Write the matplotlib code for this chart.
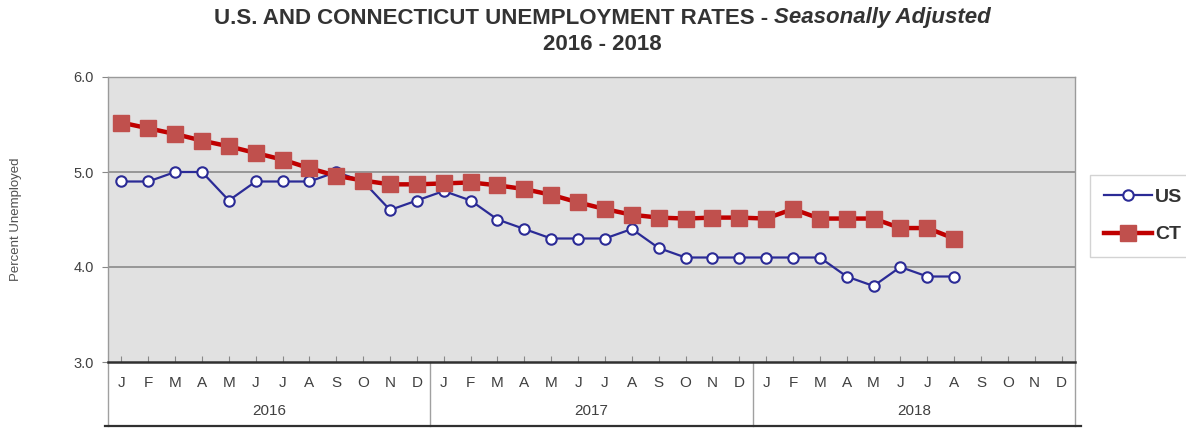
import matplotlib
matplotlib.use("Agg")
import matplotlib.pyplot as plt
import matplotlib.transforms as mtransforms
from matplotlib.lines import Line2D

plt.rcParams['font.family'] = ['Liberation Sans', 'DejaVu Sans']

months = ["J", "F", "M", "A", "M", "J", "J", "A", "S", "O", "N", "D"]
years = ["2016", "2017", "2018"]

us = [4.9, 4.9, 5.0, 5.0, 4.7, 4.9, 4.9, 4.9, 5.0, 4.9, 4.6, 4.7,
      4.8, 4.7, 4.5, 4.4, 4.3, 4.3, 4.3, 4.4, 4.2, 4.1, 4.1, 4.1,
      4.1, 4.1, 4.1, 3.9, 3.8, 4.0, 3.9, 3.9]
ct = [5.52, 5.46, 5.40, 5.33, 5.27, 5.20, 5.13, 5.04, 4.96, 4.91, 4.87, 4.87,
      4.88, 4.89, 4.86, 4.82, 4.76, 4.68, 4.61, 4.55, 4.52, 4.51, 4.52, 4.52,
      4.51, 4.61, 4.51, 4.51, 4.51, 4.41, 4.41, 4.30]
yticks = [3.0, 4.0, 5.0, 6.0]

W, H = 1186, 428
fig = plt.figure(figsize=(W / 100, H / 100), dpi=100)
L, R, T, B = 108, 1075, 77, 362
ax = fig.add_axes([L / W, 1 - B / H, (R - L) / W, (B - T) / H])
ax.set_facecolor("#e1e1e1")

n_total = len(months) * len(years)
xs_us = list(range(len(us)))
xs_ct = list(range(len(ct)))

ax.plot(xs_us, us, color="#2b2b96", lw=1.6, marker="o", ms=7.5,
        mfc="white", mec="#2b2b96", mew=1.5, zorder=3, label="US")
ax.plot(xs_ct, ct, color="#c00000", lw=3.2, marker="s", ms=12,
        mfc="#c0504d", mec="#c0504d", zorder=4, label="CT")

ax.set_xlim(-0.5, n_total - 0.5)
ax.set_ylim(yticks[0], yticks[-1])
ax.set_yticks(yticks)
ax.set_yticklabels([f"{v:.1f}" for v in yticks], fontsize=10.5, color="#404040")
for v in yticks[1:-1]:
    ax.axhline(v, color="#8a8a8a", lw=1.2, zorder=1)

ax.set_xticks(range(n_total))
ax.set_xticklabels([])
ax.tick_params(axis="x", direction="in", length=4, color="#888888", width=0.8)
ax.tick_params(axis="y", direction="out", length=4, color="#888888", width=0.8, pad=6)

for s in ["top", "right", "left"]:
    ax.spines[s].set_color("#9a9a9a")
    ax.spines[s].set_linewidth(1.0)
ax.spines["bottom"].set_color("#303030")
ax.spines["bottom"].set_linewidth(1.8)

ax.set_ylabel("Percent Unemployed", fontsize=9.5, color="#505050", labelpad=37)

# category axis table
trans = mtransforms.blended_transform_factory(ax.transData, fig.transFigure)
for i in range(n_total):
    ax.text(i, 1 - 383 / H, months[i % 12], transform=trans, ha="center",
            va="center", fontsize=11, color="#404040")
for k, yr in enumerate(years):
    ax.text(k * 12 + 5.5, 1 - 411 / H, yr, transform=trans, ha="center",
            va="center", fontsize=11, color="#404040")
for k in range(len(years) + 1):
    xb = k * 12 - 0.5
    ax.add_line(Line2D([xb, xb], [1 - B / H, 1 - 426 / H], transform=trans,
                       color="#a0a0a0", lw=1.0, clip_on=False))
fig.add_artist(Line2D([105 / W, 1081 / W], [1 - 426 / H, 1 - 426 / H],
                      color="#303030", lw=1.6))

# legend
h_us = Line2D([], [], color="#2b2b96", lw=1.6, marker="o", ms=7.5,
              mfc="white", mec="#2b2b96", mew=1.5)
h_ct = Line2D([], [], color="#c00000", lw=3.2, marker="s", ms=12,
              mfc="#c0504d", mec="#c0504d")
leg = fig.legend([h_us, h_ct], ["US", "CT"], loc="center left",
                 bbox_to_anchor=(1090 / W, 1 - 216 / H), frameon=True,
                 fancybox=False, edgecolor="#c8c8c8", fontsize=14,
                 handlelength=2.5, handletextpad=0.15, borderpad=0.7,
                 labelspacing=1.0, borderaxespad=0)
for t in leg.get_texts():
    t.set_fontweight("bold")
    t.set_color("#333333")

# title
fig.canvas.draw()
r = fig.canvas.get_renderer()
y1 = 1 - 18 / H
t1 = fig.text(0, y1, "U.S. AND CONNECTICUT UNEMPLOYMENT RATES - ",
              fontsize=16, fontweight="bold", color="#333333", va="center", ha="left")
t2 = fig.text(0, y1, "Seasonally Adjusted", fontsize=16, fontweight="bold",
              style="italic", color="#333333", va="center", ha="left")
w1 = t1.get_window_extent(r).width
w2 = t2.get_window_extent(r).width
cx = 602
x0 = cx - (w1 + w2) / 2
t1.set_x(x0 / W)
t2.set_x((x0 + w1) / W)
fig.text(cx / W, 1 - 45 / H, "2016 - 2018", fontsize=16, fontweight="bold",
         color="#333333", va="center", ha="center")

fig.savefig("out.png", dpi=100)
